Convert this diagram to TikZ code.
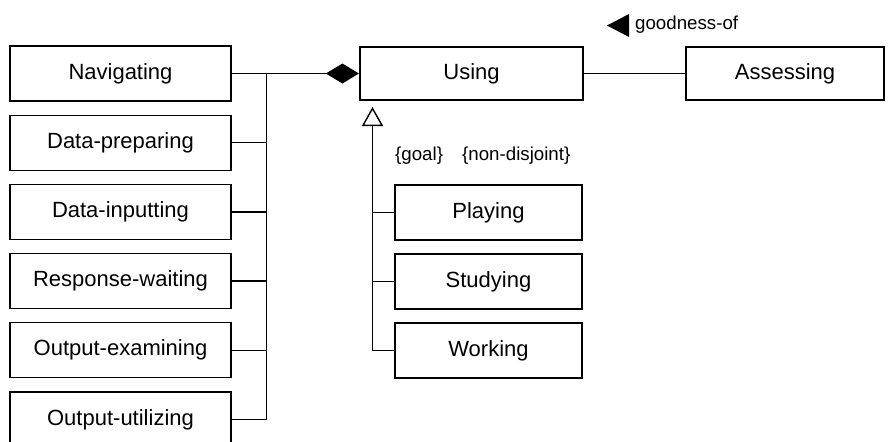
\documentclass[tikz,border=0pt]{standalone}
\usepackage{fontspec}
\setmainfont{Liberation Sans}
\usetikzlibrary{arrows.meta}
\tikzset{
  lbox/.style={draw, line width=1.2pt, minimum width=221pt, minimum height=55pt, inner sep=0pt, font=\fontsize{22}{26}\selectfont},
  sbox/.style={draw, line width=1.2pt, minimum width=187pt, minimum height=55pt, inner sep=0pt, font=\fontsize{22}{26}\selectfont},
  mbox/.style={draw, line width=2.2pt, minimum height=53pt, inner sep=0pt, font=\fontsize{22}{26}\selectfont},
  conn/.style={line width=1.4pt},
  note/.style={inner sep=0pt, font=\fontsize{18.7}{22}\selectfont}
}
\begin{document}
\begin{tikzpicture}[x=1pt,y=-1pt]
\useasboundingbox (0,0) rectangle (895,442);
\clip (0,0) rectangle (895,442);
\fill[white] (0,0) rectangle (895,442);
% left boxes
\node[lbox] (nav) at (120.5,73.5) {Navigating};
\node[lbox] (dp) at (120.5,142.7) {Data-preparing};
\node[lbox] (di) at (120.5,211.9) {Data-inputting};
\node[lbox] (rw) at (120.5,281.1) {Response-waiting};
\node[lbox] (oe) at (120.5,350.3) {Output-examining};
\node[lbox] (ou) at (120.5,419.5) {Output-utilizing};
% main boxes
\node[mbox, minimum width=223pt] (using) at (471.5,73.5) {Using};
\node[mbox, minimum width=198pt] (assess) at (785,73.5) {Assessing};
% sub boxes
\node[sbox] (pl) at (488.5,212.5) {Playing};
\node[sbox] (st) at (488.5,281.5) {Studying};
\node[sbox] (wk) at (488.5,350.5) {Working};
% bus
\coordinate (bt) at (266.5,73.5);
\coordinate (gen) at (372.5,107);
% aggregation
\draw[conn, -{Diamond[length=33pt,width=20pt,line width=0pt]}] (nav.east) -- (using.west);
\draw[conn] (ou.east) -| (bt);
\foreach \n in {dp,di,rw,oe} \draw[conn] (\n.east) -- (\n.east -| bt);
% association
\draw[conn] (using.east) -- (assess.west);
% generalization
\draw[conn, -{Triangle[open,length=19pt,width=21pt,line width=1.4pt]}] (wk.west) -| (gen);
\foreach \n in {pl,st} \draw[conn] (\n.west) -- (\n.west -| gen);
% labels
\node[note, anchor=base west] (gof) at (635,29) {goodness-of};
\fill (607,25.5) -- (629,14) -- (629,37) -- cycle;
\node[note, anchor=base west] (goal) at (395,160) {\{goal\}};
\node[note, anchor=base west] (nd) at (462,160) {\{non-disjoint\}};
\end{tikzpicture}
\end{document}
